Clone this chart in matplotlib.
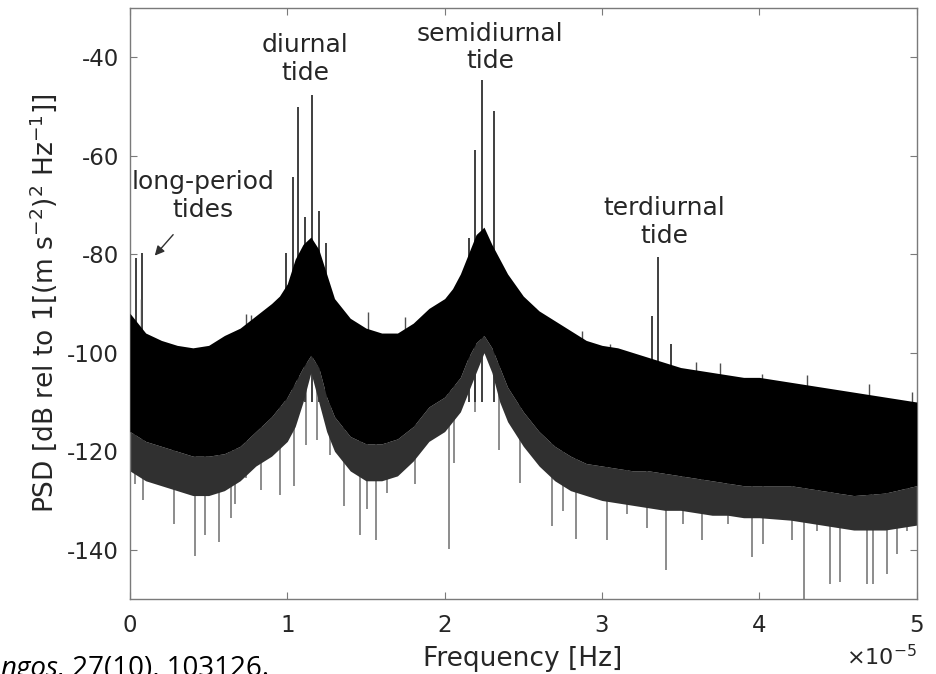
import numpy as np
import matplotlib
matplotlib.use('Agg')
import matplotlib.pyplot as plt

plt.rcParams['font.family'] = ['DejaVu Sans']
plt.rcParams['axes.unicode_minus'] = False

SCALE = 1e-5  # frequency unit (x10^-5 Hz)

# ---- PSD band envelope (frequency in 1e-5 Hz, dB) ----
freq_env = [0, 0.05, 0.1, 0.2, 0.3, 0.4, 0.5, 0.6, 0.7, 0.8, 0.9, 0.95, 1.0, 1.05,
            1.1, 1.15, 1.2, 1.25, 1.3, 1.4, 1.5, 1.6, 1.7, 1.8, 1.9, 2.0, 2.05, 2.1,
            2.15, 2.2, 2.25, 2.3, 2.35, 2.4, 2.5, 2.6, 2.7, 2.8, 2.9, 3.0, 3.1, 3.2,
            3.3, 3.4, 3.5, 3.6, 3.7, 3.8, 3.9, 4.0, 4.2, 4.4, 4.6, 4.8, 5.0]
band_top = [-92, -94, -96, -97.5, -98.5, -99, -98.5, -96.5, -95, -92.5, -90, -88.5, -86, -81,
            -78, -76.5, -79, -84, -89, -93, -95, -96, -96, -94, -91, -89, -87, -84,
            -80, -76, -74.5, -78, -81, -84, -88.5, -91.5, -93.5, -95.5, -97.5, -98.5, -99, -100,
            -101, -102, -103, -103.5, -104, -104.5, -105, -105, -106, -107, -108, -109, -110]
band_bottom = [-116, -117, -118, -119, -120, -121, -121, -120.5, -119, -116, -113, -111, -109, -106,
               -103, -100.5, -103, -109, -113, -117, -118.5, -118.5, -117.5, -115, -111, -109, -107, -105,
               -101, -98, -96.5, -99, -103, -107, -112, -116, -119, -121, -122.5, -123, -123.5, -124,
               -124, -124.5, -125, -125.5, -126, -126.5, -127, -127, -127, -128, -129, -128.5, -127]
fringe_bottom = [-124, -125, -126, -127, -128, -129, -129, -128, -126, -123, -121, -119.5, -118, -115,
                 -110, -104, -110, -116, -120, -124, -126, -126, -125, -122, -118, -116, -114, -112,
                 -108, -104, -100, -104, -110, -114, -119, -123, -126, -128, -129, -130, -130.5, -131,
                 -131.5, -132, -132, -132.5, -133, -133, -133.5, -133.5, -134, -135, -136, -136, -135]

# ---- tidal spectral lines ----
tide_freq = [0.036, 0.078,
             0.992, 1.034, 1.068, 1.113, 1.157, 1.202, 1.243,
             2.152, 2.191, 2.239, 2.311,
             3.316, 3.359, 3.439]
tide_peak = [-80.7, -79.7,
             -79.7, -64.4, -50.1, -72.4, -47.7, -71.2, -77.7,
             -76.7, -58.9, -44.6, -50.9,
             -92.5, -80.6, -98.2]

# ---- deep downward noise spikes ----
dip_freq = [0.03, 0.083, 0.278, 0.411, 0.475, 0.564, 0.644, 0.665, 0.737, 0.835, 0.951,
            1.04, 1.117, 1.19, 1.27, 1.358, 1.464, 1.509, 1.562, 1.636, 1.81, 2.026, 2.06,
            2.191, 2.346, 2.477, 2.68, 2.75, 2.835, 3.035, 3.16, 3.285, 3.407, 3.518, 3.634,
            3.804, 3.956, 4.026, 4.206, 4.281, 4.365, 4.45, 4.514, 4.683, 4.725, 4.81, 4.874, 4.937]
dip_depth = [-126.7, -129.8, -134.8, -141.2, -137.1, -138.5, -133.5, -130.8, -125.4, -127.8, -128.8,
             -127.1, -118.7, -117.7, -120.7, -131.1, -137.1, -131.8, -138.1, -128.4, -126.7, -139.8, -122.4,
             -112.0, -119.7, -126.4, -135.1, -132.1, -137.8, -138.1, -132.8, -135.5, -144.2, -134.8, -138.1,
             -134.8, -141.5, -138.8, -138.1, -150.0, -136.1, -146.9, -146.5, -146.9, -146.9, -144.9, -140.9, -136.1]

# ---- small upward spikes poking out of the band ----
burst_freq = [0.072, 0.74, 0.77, 1.513, 1.746, 2.575, 2.87, 3.05, 3.6, 3.75, 4.02, 4.30, 4.70, 4.97]
burst_peak = [-89.1, -92.2, -92.4, -91.8, -92.8, -91.0, -95.5, -98.2, -101.9, -102.0, -104.3, -104.6, -106.3, -107.9]

xtick_vals = [0, 1, 2, 3, 4, 5]
ytick_vals = [-140, -120, -100, -80, -60, -40]

TXT = '#262626'
SPINE = '#7a7a7a'

fig = plt.figure(figsize=(9.37, 6.74), dpi=100)
ax = fig.add_axes([0.1387, 0.1113, 0.8396, 0.8768])

f_env = np.array(freq_env) * SCALE
dip_f = np.array(dip_freq) * SCALE
dip_start = np.interp(dip_f, f_env, band_bottom) + 3
burst_f = np.array(burst_freq) * SCALE
burst_start = np.interp(burst_f, f_env, band_top) - 3

ax.vlines(dip_f, dip_start, dip_depth, color='#6e6e6e', lw=1.1, zorder=1)
ax.vlines(np.array(tide_freq) * SCALE, -110, tide_peak, color='#303030', lw=1.3, zorder=1)
ax.vlines(burst_f, burst_start, burst_peak, color='#505050', lw=1.0, zorder=1)
ax.fill_between(f_env, fringe_bottom, band_bottom, color='#303030', lw=0, zorder=2)
ax.fill_between(f_env, band_bottom, band_top, color='black', lw=0, zorder=3)

ax.set_xlim(0, 5 * SCALE)
ax.set_ylim(-150, -30)
ax.set_xticks(np.array(xtick_vals) * SCALE)
ax.set_xticklabels([str(v) for v in xtick_vals])
ax.set_yticks(ytick_vals)
ax.set_yticklabels([str(v) for v in ytick_vals])
ax.tick_params(direction='in', top=True, right=True, length=5, width=0.8,
               color=SPINE, labelcolor=TXT, labelsize=16.5)
ax.tick_params(axis='x', pad=11)
ax.tick_params(axis='y', pad=8)
for s in ax.spines.values():
    s.set_color(SPINE)
    s.set_linewidth(1.0)

ax.set_ylabel(r'PSD [dB rel to 1[(m s$^{-2}$)$^2$ Hz$^{-1}$]]', fontsize=19, color=TXT, labelpad=6)
fig.text(523 / 937, 1 - 666 / 674, 'Frequency [Hz]', ha='center', va='baseline',
         fontsize=19, color=TXT)
fig.text(917 / 937, 1 - 665 / 674, r'$\times10^{-5}$', ha='right', va='baseline',
         fontsize=16, color=TXT)

ax.text(1.113 * SCALE, -40.3, 'diurnal\ntide', ha='center', va='center', fontsize=18, color=TXT)
ax.text(2.289 * SCALE, -38.0, 'semidiurnal\ntide', ha='center', va='center', fontsize=18, color=TXT)
ax.text(3.395 * SCALE, -73.4, 'terdiurnal\ntide', ha='center', va='center', fontsize=18, color=TXT)
ax.text(0.464 * SCALE, -68.2, 'long-period\ntides', ha='center', va='center', fontsize=18, color=TXT)
ax.annotate('', xy=(0.146 * SCALE, -80.7), xytext=(0.286 * SCALE, -75.6),
            arrowprops=dict(arrowstyle='-|>', color='#303030', lw=1.0, mutation_scale=14))

t1 = fig.text(0.0, 1 - 676 / 674, 'ngos,', ha='left', va='baseline', fontsize=20,
              style='italic', family=['Open Sans', 'DejaVu Sans'], color='black')
ax.annotate(' 27(10), 103126.', xy=(1, 0), xycoords=t1, va='bottom', ha='left',
            fontsize=20, family=['Open Sans', 'DejaVu Sans'], color='black',
            annotation_clip=False)

fig.savefig('out.png', dpi=100)
